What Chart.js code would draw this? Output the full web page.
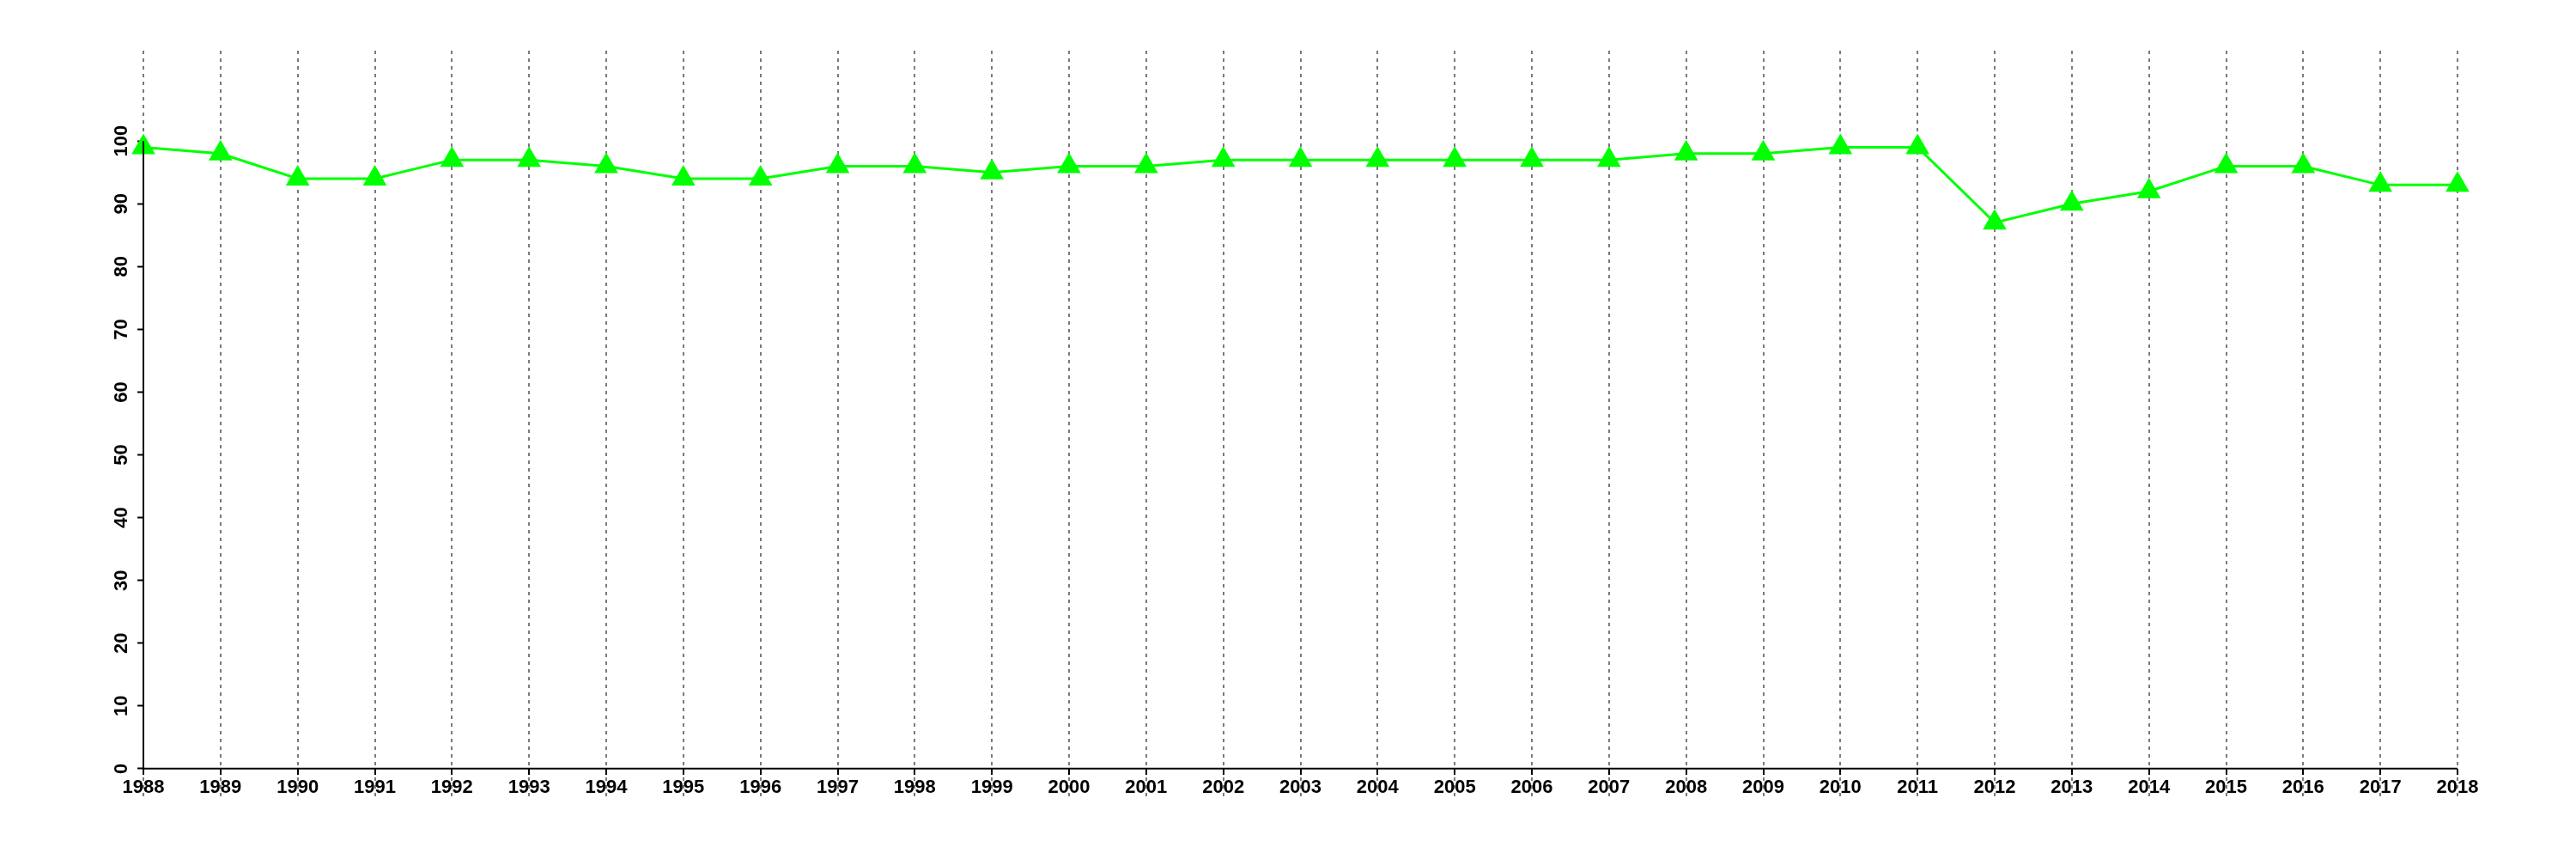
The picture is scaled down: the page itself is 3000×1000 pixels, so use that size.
<!DOCTYPE html>
<html>
<head>
<meta charset="utf-8">
<script src="https://cdn.jsdelivr.net/npm/chart.js@4.4.1/dist/chart.umd.min.js"></script>
<style>
  body { margin: 0; background: #fff; }
  #wrap { width: 3000px; height: 1000px; }
</style>
</head>
<body>
<div id="wrap"><canvas id="myChart" width="3000" height="1000"></canvas></div>
<script>
let years = [1988, 1989, 1990, 1991, 1992, 1993, 1994, 1995, 1996, 1997, 1998, 1999, 2000, 2001, 2002,
  2003, 2004, 2005, 2006, 2007, 2008, 2009, 2010, 2011, 2012, 2013, 2014, 2015, 2016, 2017, 2018]
let values = [99, 98, 94, 94, 97, 97, 96, 94, 94, 96, 96, 95, 96, 96, 97,
  97, 97, 97, 97, 97, 98, 98, 99, 99, 87, 90, 92, 96, 96, 93, 93]
let yTicks = [0, 10, 20, 30, 40, 50, 60, 70, 80, 90, 100]

// axis lines only run from first to last tick, like the original
let axisLines = {
  id: 'axisLines',
  afterDraw(chart) {
    let ctx = chart.ctx, x = chart.scales.x, y = chart.scales.y
    let y0 = y.getPixelForValue(0)
    let x0 = x.getPixelForValue(years[0])
    ctx.save()
    ctx.strokeStyle = '#000'
    ctx.lineWidth = 2
    ctx.beginPath()
    ctx.moveTo(x0, y0)
    ctx.lineTo(x.getPixelForValue(years[years.length - 1]), y0)
    ctx.moveTo(x0, y0)
    ctx.lineTo(x0, y.getPixelForValue(yTicks[yTicks.length - 1]))
    ctx.stroke()
    ctx.restore()
  }
}

Chart.defaults.font.family = '"Liberation Sans", Arial, sans-serif'
Chart.defaults.font.size = 22
Chart.defaults.font.weight = 'bold'
Chart.defaults.color = '#000'

new Chart(document.querySelector('#myChart'), {
  type: 'line',
  data: {
    datasets: [{
      data: years.map((yr, i) => ({ x: yr, y: values[i] })),
      borderColor: '#00ff00',
      backgroundColor: '#00ff00',
      borderWidth: 3,
      pointStyle: 'triangle',
      pointRadius: 16,
      pointHoverRadius: 16,
      pointBorderWidth: 0,
      clip: false,
      tension: 0
    }]
  },
  options: {
    responsive: false,
    animation: false,
    devicePixelRatio: 1,
    layout: { padding: { left: 0, right: 138, top: 59, bottom: 73 } },
    plugins: { legend: { display: false }, tooltip: { enabled: false } },
    scales: {
      x: {
        type: 'linear',
        min: 1988,
        max: 2018,
        position: { y: 0 },
        afterBuildTicks: s => { s.ticks = years.map(v => ({ value: v })) },
        ticks: { autoSkip: false, maxRotation: 0, padding: 2, callback: v => String(v) },
        grid: {
          display: true,
          drawOnChartArea: true,
          color: '#7a7a7a',
          lineWidth: 2,
          drawTicks: true,
          tickLength: 7,
          tickColor: '#000',
          tickWidth: 2,
          tickBorderDash: []
        },
        border: { display: false, dash: [4, 5] }
      },
      y: {
        type: 'linear',
        min: -4.4,
        max: 114.4,
        position: 'left',
        afterBuildTicks: s => { s.ticks = yTicks.map(v => ({ value: v })) },
        afterFit: s => { s.width = 167 },
        ticks: { minRotation: 90, maxRotation: 90, crossAlign: 'center', padding: 0, callback: v => String(v) },
        grid: {
          display: true,
          drawOnChartArea: false,
          drawTicks: true,
          tickLength: 7,
          tickColor: '#000',
          tickWidth: 2
        },
        border: { display: false }
      }
    }
  },
  plugins: [axisLines]
})
</script>
</body>
</html>
